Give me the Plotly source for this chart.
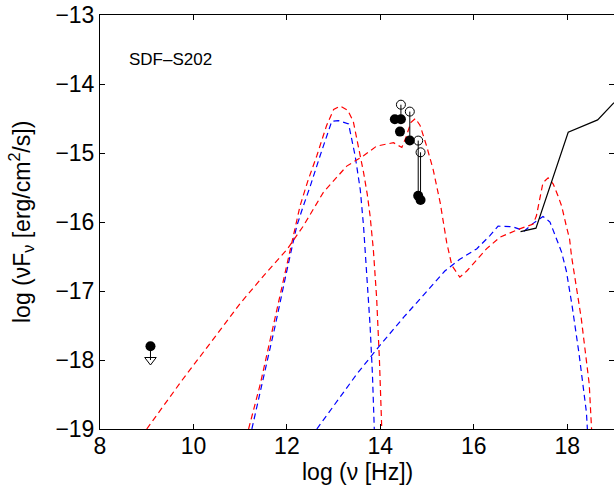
import plotly.graph_objects as go

# ---- data (log nu [Hz], log nuFnu [erg/cm2/s]) ----
blue1_x = [11.25, 11.47, 11.75, 12.0, 12.21, 12.35, 12.5, 12.71, 12.85, 12.96, 13.1, 13.32, 13.46, 13.57, 13.64, 13.72, 13.78, 13.83, 13.87]
blue1_y = [-19.0, -18.35, -17.5, -16.7, -16.06, -15.77, -15.48, -15.04, -14.75, -14.54, -14.53, -14.58, -15.04, -15.53, -16.06, -16.8, -17.5, -18.2, -19.0]

red1_x = [11.18, 11.43, 11.7, 12.0, 12.28, 12.45, 12.64, 12.85, 13.0, 13.14, 13.3, 13.42, 13.55, 13.64, 13.72, 13.78, 13.85, 13.92, 13.98, 14.03]
red1_y = [-19.0, -18.35, -17.53, -16.62, -15.77, -15.4, -15.04, -14.6, -14.37, -14.32, -14.38, -14.54, -14.95, -15.28, -15.6, -15.91, -16.4, -17.1, -18.0, -19.0]

red2_x = [9.0, 9.76, 10.5, 11.0, 11.5, 12.0, 12.35, 12.78, 13.28, 13.64, 13.92, 14.28, 14.46, 14.56, 14.65, 14.75, 14.85, 14.99, 15.13, 15.28, 15.42, 15.53, 15.7, 15.85, 16.27, 16.56, 16.98, 17.27, 17.34, 17.41, 17.48, 17.59, 17.7, 17.8, 17.88, 17.98, 18.05, 18.09, 18.3, 18.47, 18.5, 18.52]
red2_y = [-19.0, -18.29, -17.63, -17.18, -16.78, -16.4, -16.06, -15.57, -15.19, -15.04, -14.9, -14.85, -14.92, -14.75, -14.56, -14.5, -14.6, -14.9, -15.24, -15.72, -16.3, -16.63, -16.8, -16.71, -16.39, -16.22, -16.1, -16.03, -15.91, -15.67, -15.43, -15.36, -15.45, -15.62, -15.77, -16.06, -16.25, -16.49, -17.4, -18.35, -18.76, -19.0]

blue2_x = [12.64, 13.0, 13.5, 14.0, 14.5, 15.0, 15.38, 15.7, 16.06, 16.34, 16.52, 16.84, 17.08, 17.27, 17.48, 17.63, 17.77, 17.88, 17.98, 18.1, 18.25, 18.37, 18.41, 18.43]
blue2_y = [-19.0, -18.66, -18.2, -17.78, -17.38, -17.0, -16.71, -16.54, -16.39, -16.2, -16.06, -16.07, -16.13, -16.02, -15.92, -16.0, -16.25, -16.44, -16.71, -17.2, -17.9, -18.49, -18.76, -19.0]

obs_x = [17.0, 17.33, 18.02, 18.65, 19.0]
obs_y = [-16.14, -16.09, -14.70, -14.52, -14.27]

det_x = [14.31, 14.44, 14.42, 14.63, 14.81, 14.86]
det_y = [-14.51, -14.51, -14.69, -14.82, -15.62, -15.68]

open_x = [14.44, 14.63, 14.81, 14.86]
open_y = [-14.30, -14.40, -14.82, -14.99]
pair_fill_y = [-14.51, -14.82, -15.62, -15.68]

lim_x = [9.08]
lim_y = [-17.80]
lim_arrow_y = [-18.0]

label = "SDF–S202"

FONT = "Liberation Sans, Arial, Helvetica, sans-serif"
DASH = "6px,4px"

fig = go.Figure()

def dline(x, y, color):
    fig.add_trace(go.Scatter(x=x, y=y, mode="lines",
                             line=dict(color=color, width=1.2, dash=DASH),
                             hoverinfo="skip", showlegend=False))

dline(blue1_x, blue1_y, "#0000ff")
dline(red1_x, red1_y, "#ff0000")
dline(blue2_x, blue2_y, "#0000ff")
dline(red2_x, red2_y, "#ff0000")

fig.add_trace(go.Scatter(x=obs_x, y=obs_y, mode="lines",
                         line=dict(color="black", width=1.2),
                         showlegend=False))

# connectors between open and filled points
cx, cy = [], []
for xo, yo, yf in zip(open_x, open_y, pair_fill_y):
    cx += [xo, xo, None]
    cy += [yo, yf, None]
for xl, yl, ya in zip(lim_x, lim_y, lim_arrow_y):
    cx += [xl, xl, None]
    cy += [yl, ya, None]
fig.add_trace(go.Scatter(x=cx, y=cy, mode="lines",
                         line=dict(color="black", width=1), showlegend=False))

fig.add_trace(go.Scatter(x=open_x, y=open_y, mode="markers",
                         marker=dict(symbol="circle-open", size=9, color="black",
                                     line=dict(width=1, color="black")),
                         showlegend=False))
fig.add_trace(go.Scatter(x=det_x, y=det_y, mode="markers",
                         marker=dict(symbol="circle", size=10, color="black"),
                         showlegend=False))
fig.add_trace(go.Scatter(x=lim_x, y=lim_y, mode="markers",
                         marker=dict(symbol="circle", size=10, color="black"),
                         showlegend=False))
fig.add_trace(go.Scatter(x=lim_x, y=lim_arrow_y, mode="markers",
                         marker=dict(symbol="triangle-down-open", size=10, color="black",
                                     line=dict(width=1, color="black")),
                         showlegend=False))

axis_common = dict(showline=True, linecolor="black", linewidth=1, mirror="ticks",
                   ticks="inside", ticklen=5, tickcolor="black", showgrid=False,
                   zeroline=False, ticklabeloverflow="allow",
                   tickfont=dict(family=FONT, size=23, color="black"))

fig.update_xaxes(range=[8, 19], dtick=2, tick0=8, ticklabelstandoff=-4, **axis_common)
fig.update_yaxes(range=[-19, -13], dtick=1, tick0=-19, **axis_common)

fig.add_annotation(x=8.58, y=-13.64, xref="x", yref="y", text=label, showarrow=False,
                   xanchor="left", yanchor="middle",
                   font=dict(family=FONT, size=17, color="black"))
fig.add_annotation(x=0.5, y=0, xref="paper", yref="paper", text="log (ν [Hz])",
                   showarrow=False, xanchor="center", yanchor="middle", yshift=-43,
                   font=dict(family=FONT, size=23, color="black"))
fig.add_annotation(x=0, y=0.5, xref="paper", yref="paper",
                   text="log (νF<sub>ν</sub> [erg/cm<sup>2</sup>/s])", xshift=-79,
                   textangle=-90, showarrow=False, xanchor="center", yanchor="middle",
                   font=dict(family=FONT, size=23, color="black"))

fig.update_layout(width=614, height=488, margin=dict(l=100, r=0, t=15, b=59),
                  paper_bgcolor="white", plot_bgcolor="white", showlegend=False,
                  hovermode=False)

fig.write_html("out.html", config={"displayModeBar": False, "staticPlot": True},
               post_script="document.body.style.margin='0';document.body.style.overflow='hidden';")
